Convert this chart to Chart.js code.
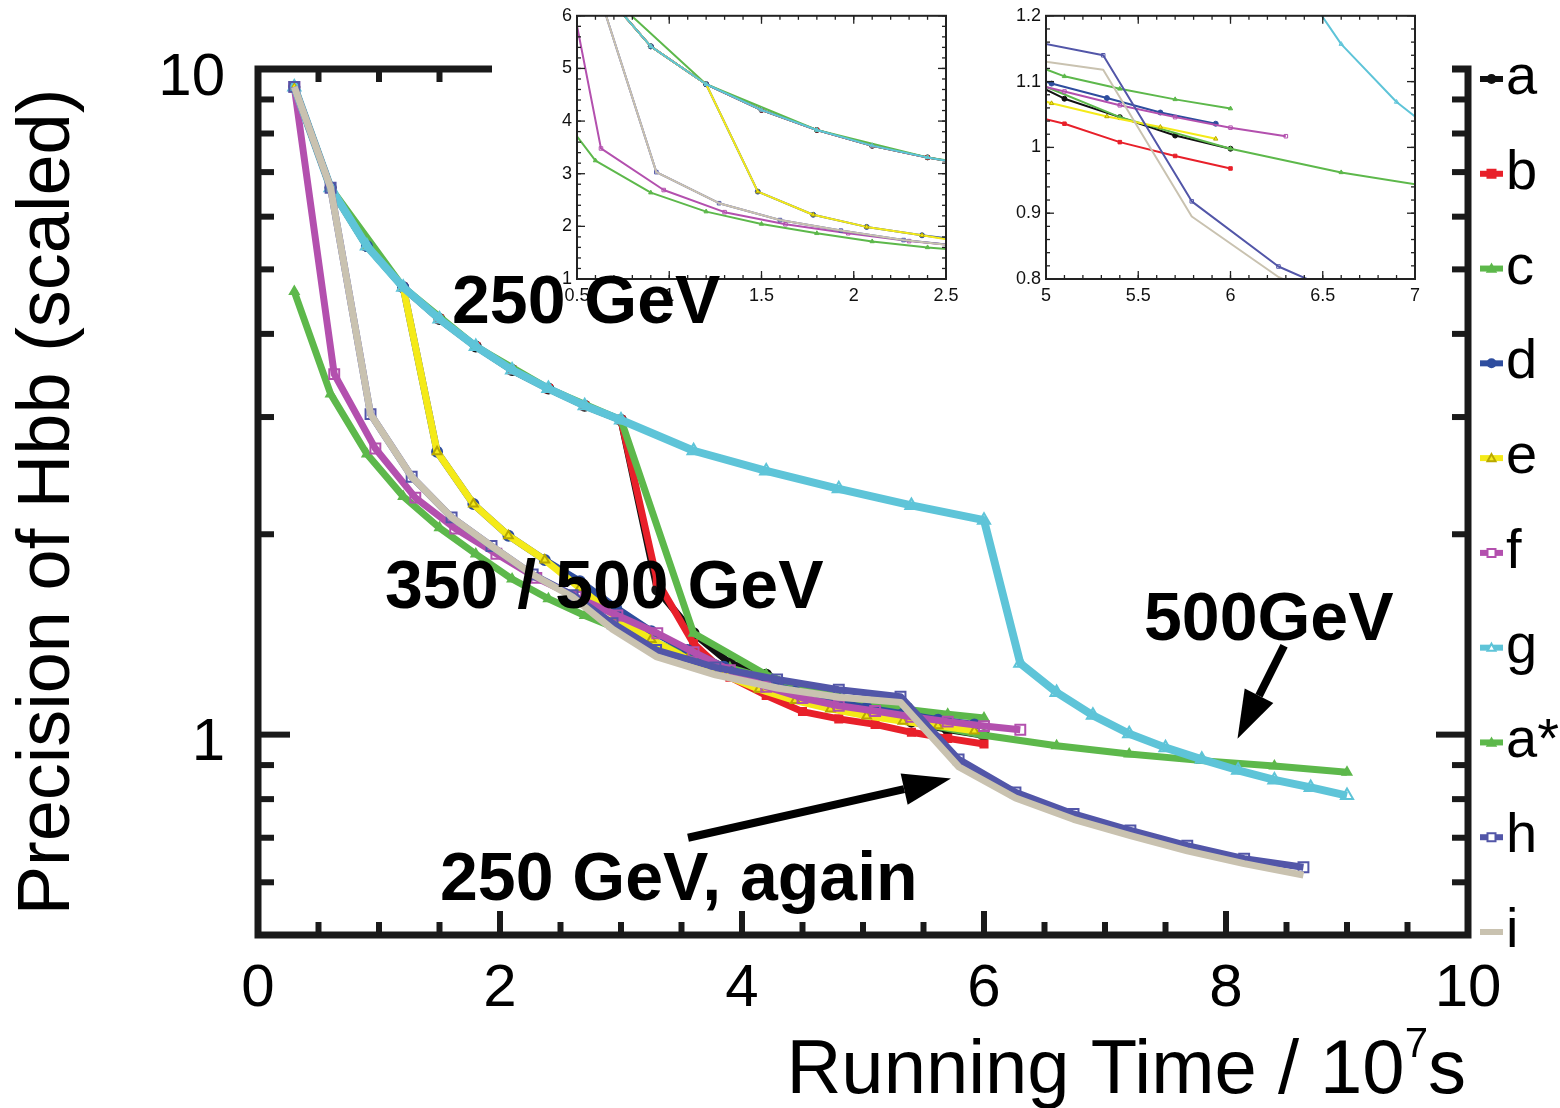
<!DOCTYPE html>
<html>
<head>
<meta charset="utf-8">
<script src="https://cdn.jsdelivr.net/npm/chart.js@4.4.0/dist/chart.umd.min.js"></script>
<style>
body { margin: 0; background: #fff; }
#wrap { position: relative; width: 1560px; height: 1108px; overflow: hidden; }
#main { position: absolute; left: 0; top: 0; }
#in1 { position: absolute; left: 492px; top: 0; background: #fff; }
#in2 { position: absolute; left: 990px; top: 0; background: #fff; }
.note { position: absolute; font: bold 68px "Liberation Sans", Arial, sans-serif; line-height: 68px; white-space: nowrap; color: #000; }
</style>
</head>
<body>
<div id="wrap">
  <canvas id="main" width="1560" height="1108"></canvas>
  <canvas id="in1" width="498" height="310"></canvas>
  <canvas id="in2" width="462" height="310"></canvas>
  <div class="note" style="left:452px;top:265px">250 GeV</div>
  <div class="note" style="left:385px;top:550px">350 / 500 GeV</div>
  <div class="note" style="left:1144px;top:582px">500GeV</div>
  <div class="note" style="left:440px;top:842px">250 GeV, again</div>
</div>
<script>
// running time (10^7 s) and scaled Hbb precision
const aX = [0.3, 0.6, 0.9, 1.2, 1.5, 1.8, 2.1, 2.4, 2.7, 3.0, 3.3, 3.6, 3.9, 4.2, 4.5, 4.8, 5.1, 5.4, 5.7, 6.0];
const aY = [9.4, 6.63, 5.42, 4.70, 4.21, 3.83, 3.53, 3.31, 3.12, 2.97, 1.65, 1.42, 1.28, 1.23, 1.165, 1.115, 1.074, 1.046, 1.018, 0.998];

const bX = [0.3, 0.6, 0.9, 1.2, 1.5, 1.8, 2.1, 2.4, 2.7, 3.0, 3.3, 3.6, 3.9, 4.2, 4.5, 4.8, 5.1, 5.4, 5.7, 6.0];
const bY = [9.4, 6.63, 5.42, 4.70, 4.21, 3.83, 3.53, 3.31, 3.12, 2.97, 1.70, 1.37, 1.22, 1.145, 1.083, 1.056, 1.036, 1.008, 0.987, 0.968];

const cX = [0.3, 0.6, 0.9, 1.2, 1.5, 1.8, 2.1, 2.4, 2.7, 3.0, 3.3, 3.6, 3.9, 4.2, 4.5, 4.8, 5.1, 5.4, 5.7, 6.0];
const cY = [4.63, 3.25, 2.64, 2.28, 2.045, 1.868, 1.713, 1.60, 1.51, 1.435, 1.37, 1.31, 1.26, 1.215, 1.175, 1.14, 1.108, 1.089, 1.073, 1.059];

const dX = [0.3, 0.6, 0.9, 1.2, 1.48, 1.78, 2.07, 2.37, 2.66, 2.96, 3.25, 3.55, 3.85, 4.14, 4.44, 4.73, 5.03, 5.33, 5.62, 5.92];
const dY = [9.4, 6.63, 5.42, 4.70, 2.66, 2.22, 1.99, 1.83, 1.70, 1.55, 1.43, 1.34, 1.265, 1.205, 1.16, 1.125, 1.097, 1.075, 1.053, 1.036];

const eX = [0.3, 0.6, 0.9, 1.2, 1.48, 1.78, 2.07, 2.37, 2.66, 2.96, 3.25, 3.55, 3.85, 4.14, 4.44, 4.73, 5.03, 5.33, 5.62, 5.92];
const eY = [9.4, 6.63, 5.42, 4.70, 2.66, 2.22, 1.99, 1.83, 1.66, 1.50, 1.39, 1.30, 1.23, 1.17, 1.125, 1.093, 1.067, 1.047, 1.031, 1.013];

const fX = [0.3, 0.63, 0.97, 1.3, 1.63, 1.97, 2.3, 2.63, 2.97, 3.3, 3.6, 3.9, 4.2, 4.5, 4.8, 5.1, 5.4, 5.7, 6.0, 6.3];
const fY = [9.4, 3.48, 2.69, 2.27, 2.04, 1.87, 1.72, 1.61, 1.51, 1.42, 1.33, 1.25, 1.18, 1.135, 1.105, 1.085, 1.064, 1.046, 1.03, 1.017];

const gX = [0.3, 0.6, 0.9, 1.2, 1.5, 1.8, 2.1, 2.4, 2.7, 3.0, 3.6, 4.2, 4.8, 5.4, 6.0, 6.3, 6.6, 6.9, 7.2, 7.5, 7.8, 8.1, 8.4, 8.7, 9.0];
const gY = [9.4, 6.63, 5.42, 4.70, 4.21, 3.83, 3.53, 3.31, 3.12, 2.97, 2.67, 2.49, 2.34, 2.21, 2.10, 1.28, 1.157, 1.069, 1.003, 0.956, 0.918, 0.884, 0.855, 0.833, 0.81];

const asX = [0.6, 1.2, 1.8, 2.4, 3.0, 3.6, 4.2, 4.8, 5.4, 6.0, 6.6, 7.2, 7.8, 8.4, 9.0];
const asY = [6.63, 4.70, 3.83, 3.31, 2.97, 1.42, 1.23, 1.115, 1.046, 0.998, 0.962, 0.935, 0.914, 0.897, 0.878];

const hX = [0.3, 0.6, 0.93, 1.27, 1.6, 1.93, 2.27, 2.6, 2.93, 3.29, 3.78, 4.29, 4.8, 5.31, 5.79, 6.26, 6.74, 7.21, 7.68, 8.15, 8.64];
const hY = [9.4, 6.63, 3.03, 2.44, 2.12, 1.92, 1.74, 1.62, 1.47, 1.34, 1.262, 1.21, 1.168, 1.14, 0.918, 0.819, 0.76, 0.718, 0.681, 0.651, 0.632];

const iX = [0.3, 0.6, 0.93, 1.27, 1.6, 1.93, 2.27, 2.6, 2.93, 3.29, 3.78, 4.29, 4.8, 5.31, 5.79, 6.26, 6.74, 7.21, 7.68, 8.15, 8.64];
const iY = [9.4, 6.63, 3.03, 2.44, 2.12, 1.92, 1.74, 1.61, 1.44, 1.31, 1.23, 1.175, 1.138, 1.118, 0.895, 0.803, 0.746, 0.705, 0.669, 0.640, 0.615];

const labels = ['a', 'b', 'c', 'd', 'e', 'f', 'g', 'a*', 'h', 'i'];
const xsList = [aX, bX, cX, dX, eX, fX, gX, asX, hX, iX];
const ysList = [aY, bY, cY, dY, eY, fY, gY, asY, hY, iY];

// look of each scenario (same order as labels)
const looks = [
  { color: '#111111', style: 'circle', order: 9 },
  { color: '#e8202a', style: 'rect', order: 8 },
  { color: '#5db84b', style: 'triangle', order: 7 },
  { color: '#2e4d9e', style: 'circle', order: 5 },
  { color: '#f4ea18', style: 'triangle', order: 4, edge: '#b8a800' },
  { color: '#b350ae', style: 'rect', order: 3, open: true },
  { color: '#5ec4d8', style: 'triangle', order: 2, open: true, width: 8 },
  { color: '#5db84b', style: 'triangle', order: 6 },
  { color: '#5256a8', style: 'rect', order: 1, open: true },
  { color: '#c9c2b0', style: false, order: 0 }
];

function pts(xs, ys) {
  return xs.map((x, i) => ({ x: x, y: ys[i] }));
}

function range(a, b, step) {
  let out = [];
  for (let v = a; v <= b + 1e-9; v += step) out.push(Math.round(v * 1000) / 1000);
  return out;
}

function makeSets(big) {
  return labels.map((lab, k) => {
    let lk = looks[k];
    return {
      label: lab,
      data: pts(xsList[k], ysList[k]),
      order: lk.order,
      borderColor: lk.color,
      backgroundColor: lk.color,
      borderWidth: big ? (lk.width || 7) : 2,
      borderJoinStyle: 'round',
      pointStyle: lk.style || 'circle',
      pointRadius: lk.style ? (big ? (lk.open ? 7 : 5) : 2.5) : 0,
      pointBackgroundColor: lk.open ? 'rgba(255,255,255,0)' : lk.color,
      pointBorderColor: lk.edge || lk.color,
      pointBorderWidth: big ? 2 : 1,
      tension: 0
    };
  });
}

// frame with inward ticks on all four sides
const frameTicks = {
  id: 'frameTicks',
  afterDatasetsDraw(chart, args, o) {
    const { ctx, chartArea: ca, scales: { x, y } } = chart;
    ctx.save();
    ctx.strokeStyle = o.color;
    ctx.lineCap = 'butt';
    ctx.lineWidth = o.tickWidth;
    const xt = (list, len) => {
      list.forEach(v => {
        let px = x.getPixelForValue(v);
        ctx.beginPath(); ctx.moveTo(px, ca.bottom); ctx.lineTo(px, ca.bottom - len); ctx.stroke();
        ctx.beginPath(); ctx.moveTo(px, ca.top); ctx.lineTo(px, ca.top + len); ctx.stroke();
      });
    };
    const yt = (list, len) => {
      list.forEach(v => {
        let py = y.getPixelForValue(v);
        ctx.beginPath(); ctx.moveTo(ca.left, py); ctx.lineTo(ca.left + len, py); ctx.stroke();
        ctx.beginPath(); ctx.moveTo(ca.right, py); ctx.lineTo(ca.right - len, py); ctx.stroke();
      });
    };
    xt(o.xMajor, o.xMajorLen);
    xt(o.xMinor, o.xMinorLen);
    yt(o.yMajor, o.yMajorLen);
    yt(o.yMinor, o.yMinorLen);
    ctx.lineWidth = o.lineWidth;
    ctx.strokeRect(ca.left, ca.top, ca.right - ca.left, ca.bottom - ca.top);
    ctx.restore();
  }
};

const arrows = {
  id: 'arrows',
  afterDraw(chart, args, o) {
    if (!o.items) return;
    const { ctx, scales: { x, y } } = chart;
    ctx.save();
    ctx.fillStyle = '#000';
    ctx.strokeStyle = '#000';
    o.items.forEach(it => {
      let x0 = x.getPixelForValue(it.from[0]), y0 = y.getPixelForValue(it.from[1]);
      let x1 = x.getPixelForValue(it.to[0]), y1 = y.getPixelForValue(it.to[1]);
      let ang = Math.atan2(y1 - y0, x1 - x0);
      let bx = x1 - o.head * Math.cos(ang), by = y1 - o.head * Math.sin(ang);
      ctx.lineWidth = o.width;
      ctx.beginPath(); ctx.moveTo(x0, y0); ctx.lineTo(bx, by); ctx.stroke();
      ctx.beginPath();
      ctx.moveTo(x1, y1);
      ctx.lineTo(bx + o.half * Math.sin(ang), by - o.half * Math.cos(ang));
      ctx.lineTo(bx - o.half * Math.sin(ang), by + o.half * Math.cos(ang));
      ctx.closePath();
      ctx.fill();
    });
    ctx.restore();
  }
};

function marker(ctx, ds, cx, cy, r) {
  ctx.save();
  ctx.lineWidth = 2;
  ctx.strokeStyle = ds.pointBorderColor;
  ctx.fillStyle = ds.pointBackgroundColor === 'rgba(255,255,255,0)' ? '#fff' : ds.pointBackgroundColor;
  ctx.beginPath();
  if (ds.pointStyle === 'rect') {
    ctx.rect(cx - r, cy - r, 2 * r, 2 * r);
  } else if (ds.pointStyle === 'triangle') {
    ctx.moveTo(cx, cy - r); ctx.lineTo(cx + r, cy + r * 0.8); ctx.lineTo(cx - r, cy + r * 0.8); ctx.closePath();
  } else {
    ctx.arc(cx, cy, r, 0, Math.PI * 2);
  }
  ctx.fill();
  ctx.stroke();
  ctx.restore();
}

const sideLegend = {
  id: 'sideLegend',
  afterDraw(chart) {
    const { ctx, chartArea: ca } = chart;
    const sets = chart.data.datasets;
    const step = (ca.bottom - ca.top - 13) / (sets.length - 1);
    ctx.save();
    sets.forEach((ds, i) => {
      let cy = ca.top + 10 + i * step;
      let x0 = ca.right + 12, x1 = ca.right + 35;
      ctx.strokeStyle = ds.borderColor;
      ctx.lineWidth = 6;
      ctx.beginPath(); ctx.moveTo(x0, cy); ctx.lineTo(x1, cy); ctx.stroke();
      if (ds.pointRadius) marker(ctx, ds, (x0 + x1) / 2, cy, 4);
      ctx.fillStyle = '#000';
      ctx.font = '56px "Liberation Sans", Arial, sans-serif';
      ctx.textBaseline = 'alphabetic';
      ctx.textAlign = 'left';
      ctx.fillText(ds.label, x1 + 3, cy + 15);
    });
    ctx.restore();
  }
};

const mainFont = '"Liberation Sans", Arial, sans-serif';

// x-axis title with a raised exponent
const xTitle = {
  id: 'xTitle',
  afterDraw(chart, args, o) {
    const { ctx, chartArea: ca } = chart;
    ctx.save();
    ctx.fillStyle = '#000';
    ctx.textBaseline = 'alphabetic';
    ctx.textAlign = 'left';
    const big = '76px ' + mainFont, small = '42px ' + mainFont;
    ctx.font = big;
    const w1 = ctx.measureText(o.main).width;
    const w3 = ctx.measureText(o.tail).width;
    ctx.font = small;
    const w2 = ctx.measureText(o.sup).width;
    const base = chart.height - 15;
    let x0 = ca.right - 2 - (w1 + w2 + w3);
    ctx.font = big;
    ctx.fillText(o.main, x0, base);
    ctx.font = small;
    ctx.fillText(o.sup, x0 + w1, base - 36);
    ctx.font = big;
    ctx.fillText(o.tail, x0 + w1 + w2, base);
    ctx.restore();
  }
};

new Chart(document.getElementById('main'), {
  type: 'line',
  data: { datasets: makeSets(true) },
  plugins: [frameTicks, arrows, sideLegend, xTitle],
  options: {
    responsive: false,
    animation: false,
    devicePixelRatio: 1,
    events: [],
    layout: { padding: { left: 0, top: 68, right: 92, bottom: 0 } },
    scales: {
      x: {
        type: 'linear', min: 0, max: 10,
        grid: { display: false, drawTicks: false },
        border: { display: false },
        ticks: { stepSize: 2, padding: 18, color: '#000', font: { family: mainFont, size: 60 }, maxRotation: 0, autoSkip: false },
        afterFit: s => { s.height = 173; }
      },
      y: {
        type: 'logarithmic', min: 0.5, max: 10,
        grid: { display: false, drawTicks: false },
        border: { display: false },
        ticks: {
          padding: 33, labelOffset: 9, color: '#000', autoSkip: false,
          font: { family: mainFont, size: 60 },
          callback: v => (v === 10 || v === 1) ? String(v) : ''
        },
        title: { display: true, text: 'Precision of Hbb (scaled)', color: '#000', font: { family: mainFont, size: 74, lineHeight: 1 }, padding: { top: 12, bottom: 0 } },
        afterFit: s => { s.width = 258; }
      }
    },
    plugins: {
      legend: { display: false },
      tooltip: { enabled: false },
      xTitle: { main: 'Running Time / 10', sup: '7', tail: 's' },
      frameTicks: {
        color: '#1a1a1a', lineWidth: 7, tickWidth: 6,
        xMajor: [0, 2, 4, 6, 8, 10], xMajorLen: 24,
        xMinor: [0.5, 1, 1.5, 2.5, 3, 3.5, 4.5, 5, 5.5, 6.5, 7, 7.5, 8.5, 9, 9.5], xMinorLen: 13,
        yMajor: [1], yMajorLen: 32,
        yMinor: [0.6, 0.7, 0.8, 0.9, 2, 3, 4, 5, 6, 7, 8, 9], yMinorLen: 16
      },
      arrows: {
        width: 8, head: 48, half: 16,
        items: [
          { from: [8.48, 1.36], to: [8.095, 0.986] },
          { from: [3.554, 0.70], to: [5.727, 0.859] }
        ]
      }
    }
  }
});

function insetOptions(xr, yr, yWidth, rightPad, ticks) {
  const f = { family: mainFont, size: 18 };
  const fmt = v => String(Math.round(v * 100) / 100);
  return {
    responsive: false,
    animation: false,
    devicePixelRatio: 1,
    events: [],
    layout: { padding: { left: 0, top: 15, right: rightPad, bottom: 0 } },
    scales: {
      x: {
        type: 'linear', min: xr[0], max: xr[1],
        grid: { display: false, drawTicks: false },
        border: { display: false },
        ticks: { stepSize: xr[2], padding: 6, color: '#111', font: f, maxRotation: 0, autoSkip: false, callback: fmt },
        afterFit: s => { s.height = 31; }
      },
      y: {
        type: 'linear', min: yr[0], max: yr[1],
        grid: { display: false, drawTicks: false },
        border: { display: false },
        ticks: { stepSize: yr[2], padding: 5, color: '#111', font: f, autoSkip: false, callback: fmt },
        afterFit: s => { s.width = yWidth; }
      }
    },
    plugins: {
      legend: { display: false },
      tooltip: { enabled: false },
      frameTicks: Object.assign({ color: '#222', lineWidth: 2, tickWidth: 1.3, xMajorLen: 8, xMinorLen: 4, yMajorLen: 8, yMinorLen: 4 }, ticks)
    }
  };
}

new Chart(document.getElementById('in1'), {
  type: 'line',
  data: { datasets: makeSets(false) },
  plugins: [frameTicks],
  options: insetOptions([0.5, 2.5, 0.5], [1, 6, 1], 85, 44, {
    xMajor: range(0.5, 2.5, 0.5), xMinor: range(0.5, 2.5, 0.1),
    yMajor: range(1, 6, 1), yMinor: range(1, 6, 0.2)
  })
});

new Chart(document.getElementById('in2'), {
  type: 'line',
  data: { datasets: makeSets(false) },
  plugins: [frameTicks],
  options: insetOptions([5, 7, 0.5], [0.8, 1.2, 0.1], 56, 37, {
    xMajor: range(5, 7, 0.5), xMinor: range(5, 7, 0.1),
    yMajor: range(0.8, 1.2, 0.1), yMinor: range(0.8, 1.2, 0.02)
  })
});
</script>
</body>
</html>
